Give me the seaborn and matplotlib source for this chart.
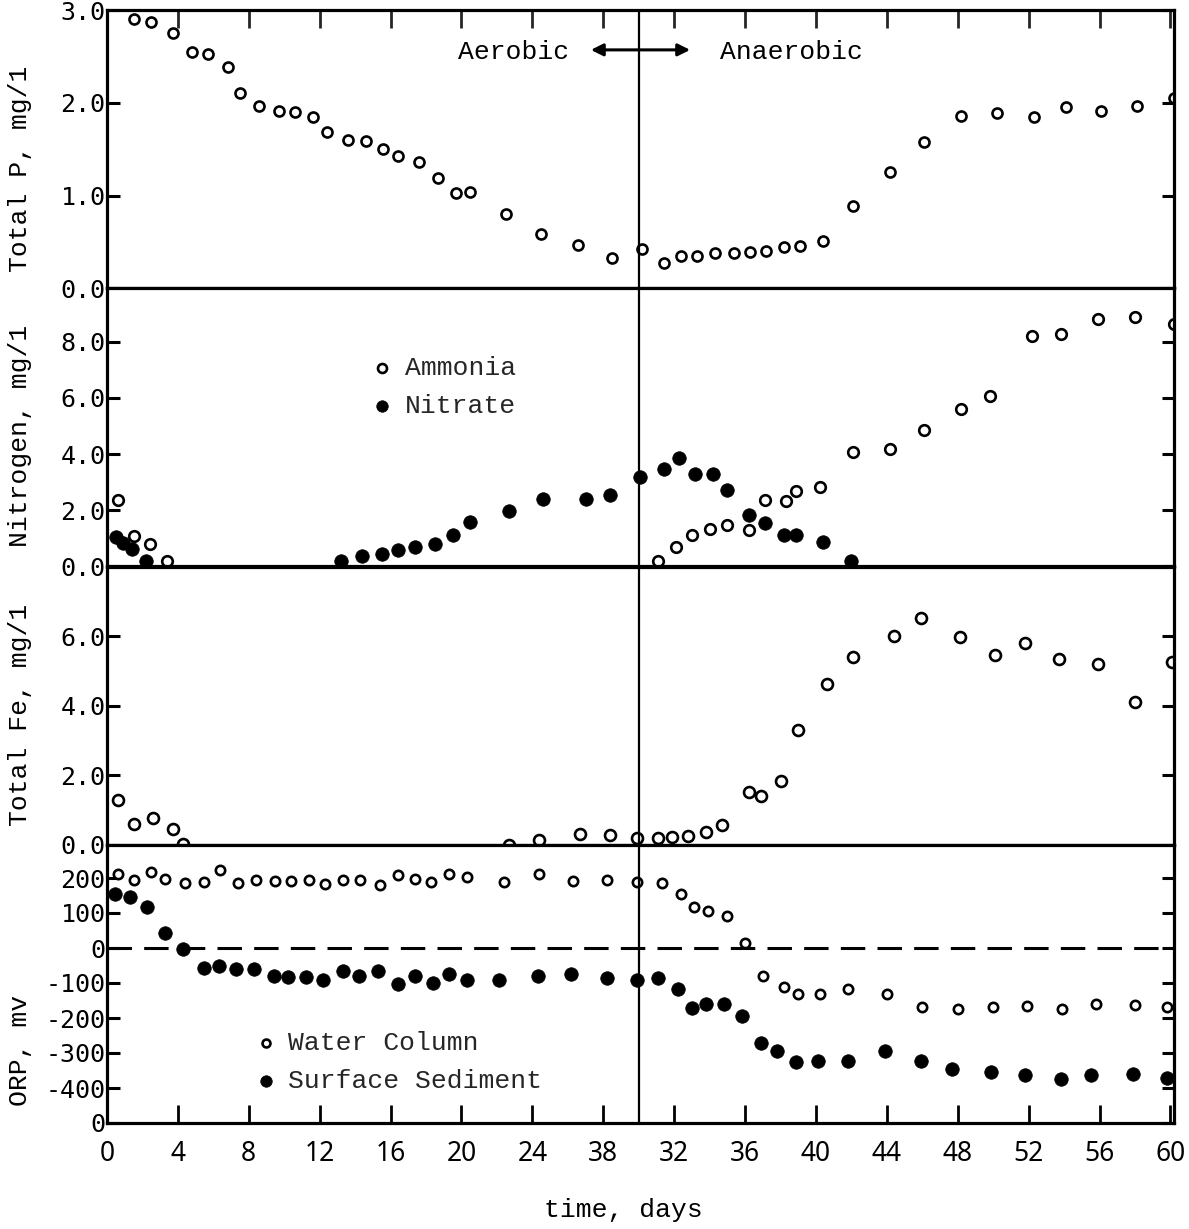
import matplotlib
matplotlib.use("Agg")
import matplotlib.pyplot as plt
import seaborn as sns
import numpy as np

# ---------------- data ----------------
x_ticks = [0, 4, 8, 12, 16, 20, 24, 28, 32, 36, 40, 44, 48, 52, 56, 60]
x_tick_labels = ["0", "4", "8", "12", "16", "20", "24", "38", "32", "36",
                 "40", "44", "48", "52", "56", "60"]

p_day = [1.5, 2.5, 3.7, 4.8, 5.7, 6.8, 7.5, 8.6, 9.7, 10.6, 11.6, 12.4, 13.6,
         14.6, 15.6, 16.4, 17.6, 18.7, 19.7, 20.5, 22.5, 24.5, 26.6, 28.5,
         30.2, 31.4, 32.4, 33.3, 34.3, 35.4, 36.3, 37.2, 38.2, 39.1, 40.4,
         42.1, 44.2, 46.1, 48.2, 50.2, 52.3, 54.1, 56.1, 58.1, 60.2]
p_val = [2.90, 2.87, 2.75, 2.55, 2.53, 2.39, 2.11, 1.96, 1.91, 1.90, 1.85,
         1.69, 1.60, 1.59, 1.50, 1.43, 1.36, 1.19, 1.03, 1.04, 0.80, 0.58,
         0.47, 0.33, 0.42, 0.27, 0.35, 0.35, 0.38, 0.38, 0.39, 0.40, 0.44,
         0.46, 0.51, 0.89, 1.25, 1.58, 1.86, 1.89, 1.85, 1.95, 1.91, 1.96, 2.05]

nh4_day = [0.6, 1.5, 2.4, 3.4, 31.1, 32.1, 33.0, 34.0, 35.0, 36.2, 37.1, 38.3,
           38.9, 40.2, 42.1, 44.2, 46.1, 48.2, 49.8, 52.2, 53.8, 55.9, 58.0, 60.2]
nh4_val = [2.36, 1.10, 0.79, 0.18, 0.18, 0.68, 1.11, 1.32, 1.46, 1.29, 2.36,
           2.32, 2.68, 2.82, 4.07, 4.18, 4.86, 5.61, 6.07, 8.21, 8.29, 8.79,
           8.86, 8.64]

no3_day = [0.5, 0.9, 1.4, 2.2, 13.2, 14.4, 15.5, 16.4, 17.4, 18.5, 19.5, 20.5,
           22.7, 24.6, 27.0, 28.4, 30.05, 31.4, 32.3, 33.2, 34.2, 35.0, 36.2,
           37.1, 38.2, 38.9, 40.4, 42.0]
no3_val = [1.05, 0.85, 0.62, 0.18, 0.18, 0.36, 0.46, 0.57, 0.68, 0.79, 1.11,
           1.57, 1.96, 2.39, 2.39, 2.54, 3.18, 3.46, 3.86, 3.29, 3.29, 2.71,
           1.82, 1.54, 1.11, 1.11, 0.86, 0.21]

fe_day = [0.6, 1.5, 2.6, 3.7, 4.3, 22.7, 24.4, 26.7, 28.4, 29.9, 31.1, 31.9,
          32.8, 33.8, 34.7, 36.2, 36.9, 38.0, 39.0, 40.6, 42.1, 44.4, 45.9,
          48.1, 50.1, 51.8, 53.7, 55.9, 58.0, 60.1]
fe_val = [1.28, 0.61, 0.78, 0.46, 0.03, 0.0, 0.14, 0.32, 0.29, 0.20, 0.20,
          0.23, 0.26, 0.38, 0.58, 1.51, 1.39, 1.83, 3.30, 4.61, 5.39, 6.00,
          6.52, 5.97, 5.45, 5.80, 5.33, 5.19, 4.09, 5.25]

orp_w_day = [0.6, 1.5, 2.5, 3.3, 4.4, 5.5, 6.4, 7.4, 8.4, 9.5, 10.4, 11.4,
             12.3, 13.3, 14.3, 15.4, 16.4, 17.4, 18.3, 19.3, 20.3, 22.4, 24.4,
             26.3, 28.2, 29.9, 31.3, 32.4, 33.1, 33.9, 35.0, 36.0, 37.0, 38.2,
             39.0, 40.2, 41.8, 44.0, 46.0, 48.0, 50.0, 51.9, 53.9, 55.8, 58.0, 59.8]
orp_w_val = [211, 194, 217, 197, 185, 188, 222, 185, 194, 191, 191, 194, 182,
             194, 194, 179, 208, 197, 188, 211, 202, 188, 211, 191, 194, 188,
             185, 153, 118, 107, 92, 14, -81, -110, -132, -130, -116, -130,
             -168, -173, -168, -165, -173, -159, -162, -168]

orp_s_day = [0.45, 1.3, 2.25, 3.26, 4.27, 5.5, 6.3, 7.3, 8.3, 9.45, 10.2, 11.2,
             12.2, 13.3, 14.2, 15.3, 16.4, 17.4, 18.4, 19.3, 20.3, 22.1, 24.3,
             26.2, 28.2, 29.9, 31.1, 32.2, 33.0, 33.8, 34.8, 35.8, 36.9, 37.8,
             38.9, 40.1, 41.8, 43.9, 45.9, 47.7, 49.9, 51.8, 53.8, 55.5, 57.9, 59.8]
orp_s_val = [153, 147, 116, 43, -3, -58, -52, -61, -61, -81, -84, -84, -92,
             -66, -81, -66, -104, -81, -101, -75, -90, -92, -81, -75, -87, -90,
             -87, -116, -171, -159, -159, -194, -272, -295, -327, -324, -324,
             -295, -324, -347, -353, -364, -373, -364, -361, -370]

orp_ticks = [-500, -400, -300, -200, -100, 0, 100, 200]
orp_tick_labels = ["0", "-400", "-300", "-200", "-100", "0", "100", "200"]

# ---------------- style ----------------
sns.set_theme(style="white")
plt.rcParams["font.family"] = ["Liberation Mono", "DejaVu Sans Mono"]
MONO = "Liberation Mono"
TICKF = "DejaVu Sans Mono"
XTF = "Noto Sans"

fig, axes = plt.subplots(4, 1, sharex=True, figsize=(11.89, 12.29), dpi=100,
                         gridspec_kw=dict(hspace=0))
fig.subplots_adjust(left=107/1189, right=1174/1189, top=1 - 10/1229,
                    bottom=1 - 1123/1229)
ax1, ax2, ax3, ax4 = axes

open_kw = dict(marker="o", facecolor="white", edgecolor="black", linewidth=1.9)
fill_kw = dict(marker="o", color="black", edgecolor="black", linewidth=0.5)

sns.scatterplot(x=p_day, y=p_val, ax=ax1, s=52, **open_kw)
sns.scatterplot(x=nh4_day, y=nh4_val, ax=ax2, s=58, label="Ammonia", **open_kw)
sns.scatterplot(x=no3_day, y=no3_val, ax=ax2, s=95, label="Nitrate", **fill_kw)
sns.scatterplot(x=fe_day, y=fe_val, ax=ax3, s=62, **open_kw)
sns.scatterplot(x=orp_w_day, y=orp_w_val, ax=ax4, s=45, label="Water Column", **open_kw)
sns.scatterplot(x=orp_s_day, y=orp_s_val, ax=ax4, s=95, label="Surface Sediment", **fill_kw)

ax1.set_ylim(0, 3.0)
ax1.set_yticks([0, 1, 2, 3])
ax1.set_yticklabels(["0.0", "1.0", "2.0", "3.0"])
ax2.set_ylim(0, 9.9)
ax2.set_yticks([0, 2, 4, 6, 8])
ax2.set_yticklabels(["0.0", "2.0", "4.0", "6.0", "8.0"])
ax3.set_ylim(0, 8.0)
ax3.set_yticks([0, 2, 4, 6])
ax3.set_yticklabels(["0.0", "2.0", "4.0", "6.0"])
ax4.set_ylim(-500, 295)
ax4.set_yticks(orp_ticks)
ax4.set_yticklabels(orp_tick_labels)

ax4.set_xlim(0, 60.2)
ax4.set_xticks(x_ticks)
ax4.set_xticklabels(x_tick_labels, fontfamily=XTF, fontsize=19)

ylabels = ["Total P, mg/1", "Nitrogen, mg/1", "Total Fe, mg/1", "ORP, mv"]
ylab_y = [0.43, 0.47, 0.465, 0.26]
for ax, lab, yy in zip(axes, ylabels, ylab_y):
    for s in ax.spines.values():
        s.set_linewidth(2.3)
        s.set_color("black")
        s.set_visible(True)
    ax.tick_params(axis="y", which="both", left=True, right=True,
                   direction="in", length=9, width=2.2, pad=1,
                   labelsize=18, colors="black")
    for t in ax.get_yticklabels():
        t.set_fontfamily(TICKF)
    ax.tick_params(axis="x", which="both", top=False, bottom=False,
                   direction="in", length=13, width=2.0)
    ax.set_ylabel(lab, fontsize=19, fontfamily=MONO, color="black")
    ax.yaxis.set_label_coords(-0.07, yy)
    ax.axvline(30, color="black", linewidth=1.6, zorder=1)
    ax.set_xlabel("")
    ax.grid(False)

ax1.tick_params(axis="x", top=True, bottom=False, labeltop=False, labelbottom=False)
ax4.tick_params(axis="x", bottom=True, labelbottom=True, pad=12,
                labelsize=19, colors="black")

ax4.axhline(0, color="black", linewidth=2.2, dashes=(8, 4), zorder=1)

# annotations in top panel
ax1.annotate("", xy=(27.3, 2.57), xytext=(32.9, 2.57),
             arrowprops=dict(arrowstyle="<|-|>", color="black", lw=2.2,
                             mutation_scale=18, shrinkA=0, shrinkB=0))
ax1.text(22.95, 2.55, "Aerobic", ha="center", va="center", fontsize=19,
         fontfamily=MONO, color="black")
ax1.text(38.6, 2.55, "Anaerobic", ha="center", va="center", fontsize=19,
         fontfamily=MONO, color="black")

leg_kw = dict(frameon=False, loc="upper left", borderpad=0, borderaxespad=0,
              handlelength=0.8, handletextpad=0.45, labelspacing=0.55,
              prop=dict(family=MONO, size=19), markerscale=0.85)
ax2.legend(bbox_to_anchor=(0.248, 0.757), **leg_kw)
ax4.legend(bbox_to_anchor=(0.139, 0.332), **leg_kw)

ax4.set_xlabel("time, days", fontsize=19, fontfamily=MONO, color="black")
ax4.xaxis.set_label_coords(0.484, -0.27)

fig.savefig("out.png", dpi=100, facecolor="white")
